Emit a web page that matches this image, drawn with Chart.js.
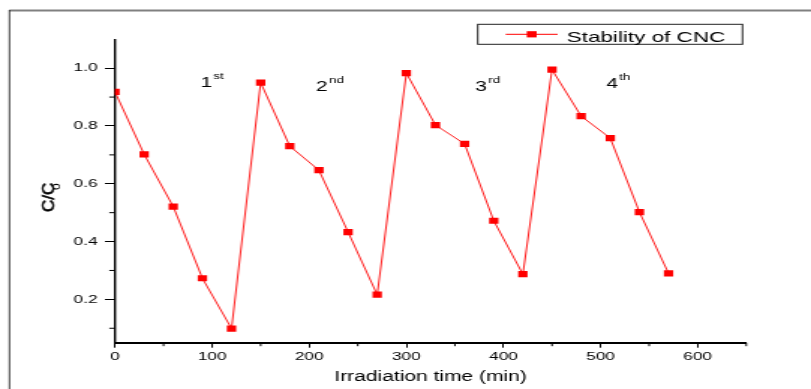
<!DOCTYPE html>
<html>
<head>
<meta charset="utf-8">
<script src="https://cdn.jsdelivr.net/npm/chart.js@4.4.1/dist/chart.umd.min.js"></script>
<style>
  html, body { margin: 0; padding: 0; background: #fff; }
  #myChart { display: block; }
</style>
</head>
<body>
<canvas id="myChart" width="541" height="389" style="width:811px;height:389px"></canvas>
<script>
// irradiation time (min) and C/Co readings
const times = [0, 30, 60, 90, 120, 150, 180, 210, 240, 270, 300, 330, 360, 390, 420, 450, 480, 510, 540, 570]
const stability = [0.918, 0.702, 0.521, 0.273, 0.099, 0.950, 0.730, 0.647, 0.433, 0.216, 0.983, 0.803, 0.738, 0.472, 0.287, 0.995, 0.834, 0.758, 0.502, 0.290]
const xTicks = [0, 100, 200, 300, 400, 500, 600]
const xMinorTicks = [50, 150, 250, 350, 450, 550, 650]
const yTicks = [0.2, 0.4, 0.6, 0.8, 1.0]
const yMinorTicks = [0.1, 0.3, 0.5, 0.7, 0.9]
const cycleNumbers = ['1', '2', '3', '4']
const cycleSuffixes = ['st', 'nd', 'rd', 'th']
// where the cycle labels sit, in data units
const cycleAt = [[88, 0.934], [207, 0.921], [371, 0.921], [506, 0.933]]

const FONT = '"Liberation Sans", Arial, sans-serif'
Chart.defaults.font.family = FONT
Chart.defaults.color = '#000'

const ctx = document.getElementById('myChart')

const extras = {
    id: 'extras',
    beforeDraw(chart) {
        const c = chart.ctx
        c.save()
        c.fillStyle = '#fff'
        c.fillRect(0, 0, chart.width, chart.height)
        c.strokeStyle = '#808080'
        c.lineWidth = 2
        c.beginPath()
        c.moveTo(6.2, 10.6)
        c.lineTo(chart.width, 10.6)
        c.stroke()
        c.strokeStyle = '#000'
        c.lineWidth = 0.8
        c.beginPath()
        c.moveTo(6.3, 10)
        c.lineTo(6.3, chart.height)
        c.stroke()
        c.restore()
    },
    afterDraw(chart) {
        const c = chart.ctx
        const xs = chart.scales.x
        const ys = chart.scales.y
        c.save()

        // minor ticks
        c.strokeStyle = '#000'
        c.lineWidth = 1
        yMinorTicks.forEach(v => {
            const py = ys.getPixelForValue(v)
            c.beginPath()
            c.moveTo(ys.right, py)
            c.lineTo(ys.right - 3.8, py)
            c.stroke()
        })
        xMinorTicks.forEach(v => {
            const px = xs.getPixelForValue(v)
            c.beginPath()
            c.moveTo(px, xs.top)
            c.lineTo(px, xs.top + 3.5)
            c.stroke()
        })

        // cycle labels
        c.fillStyle = '#000'
        c.textBaseline = 'alphabetic'
        c.textAlign = 'left'
        cycleNumbers.forEach((n, i) => {
            const px = xs.getPixelForValue(cycleAt[i][0])
            const py = ys.getPixelForValue(cycleAt[i][1])
            c.font = `14px ${FONT}`
            c.fillText(n, px, py)
            const w = c.measureText(n).width
            c.font = `9px ${FONT}`
            c.fillText(cycleSuffixes[i], px + w + 0.8, py - 8)
        })

        // y title C/Co
        c.save()
        c.translate(35.6, 212)
        c.rotate(-Math.PI / 2)
        c.scale(1, 0.68)
        c.font = `17px ${FONT}`
        c.strokeStyle = '#000'
        c.lineWidth = 0.7
        c.fillText('C/C', 0, 0)
        c.strokeText('C/C', 0, 0)
        c.font = `12px ${FONT}`
        c.fillText('o', 22, 6.3)
        c.restore()

        // legend
        const ds = chart.data.datasets[0]
        c.strokeStyle = '#222'
        c.lineWidth = 1
        c.strokeRect(318.7, 24.3, 176.6, 20)
        c.strokeStyle = ds.borderColor
        c.lineWidth = 1
        c.beginPath()
        c.moveTo(337.3, 34.3)
        c.lineTo(372, 34.3)
        c.stroke()
        c.fillStyle = ds.pointBackgroundColor
        c.fillRect(354.7 - 3.3, 34.3 - 3.1, 6.6, 6.2)
        c.fillStyle = '#000'
        c.font = `15px ${FONT}`
        c.fillText(ds.label, 378, 41.5)

        c.restore()
    }
}

new Chart(ctx, {
    type: 'line',
    data: {
        datasets: [{
            label: 'Stability of CNC',
            data: times.map((t, i) => ({ x: t, y: stability[i] })),
            borderColor: '#ff0000',
            borderWidth: 0.9,
            pointStyle: 'rect',
            pointRadius: 4.4,
            pointBackgroundColor: '#ff0000',
            pointBorderColor: '#ff0000',
            pointBorderWidth: 0,
            tension: 0,
            clip: 0
        }]
    },
    options: {
        responsive: false,
        animation: false,
        devicePixelRatio: 1,
        events: [],
        layout: { padding: { left: 0, right: 43.2, top: 39.3, bottom: 0 } },
        plugins: {
            legend: { display: false },
            tooltip: { enabled: false }
        },
        scales: {
            x: {
                type: 'linear',
                min: 0,
                max: 650,
                afterBuildTicks: (scale) => { scale.ticks = xTicks.map(v => ({ value: v })) },
                afterFit: (scale) => { scale.height = 46.3 },
                ticks: {
                    callback: (v) => String(v),
                    font: { size: 11.5 },
                    color: '#000',
                    padding: 2.5,
                    maxRotation: 0,
                    autoSkip: false
                },
                grid: { drawOnChartArea: false, drawTicks: true, tickLength: 5, tickWidth: 1, tickColor: '#000' },
                border: { display: true, color: '#000', width: 2 },
                title: {
                    display: true,
                    text: 'Irradiation time (min)',
                    font: { size: 14 },
                    color: '#000',
                    padding: { top: 0, bottom: 3.2 }
                }
            },
            y: {
                type: 'linear',
                min: 0.05,
                max: 1.1,
                afterBuildTicks: (scale) => { scale.ticks = yTicks.map(v => ({ value: v })) },
                afterFit: (scale) => { scale.width = 76.7 },
                ticks: {
                    callback: (v) => v.toFixed(1),
                    font: { size: 11.5 },
                    color: '#000',
                    padding: 4.9,
                    autoSkip: false
                },
                grid: { drawOnChartArea: false, drawTicks: true, tickLength: 6.7, tickWidth: 1, tickColor: '#000' },
                border: { display: true, color: '#000', width: 1.4 }
            }
        }
    },
    plugins: [extras]
})
</script>
</body>
</html>
